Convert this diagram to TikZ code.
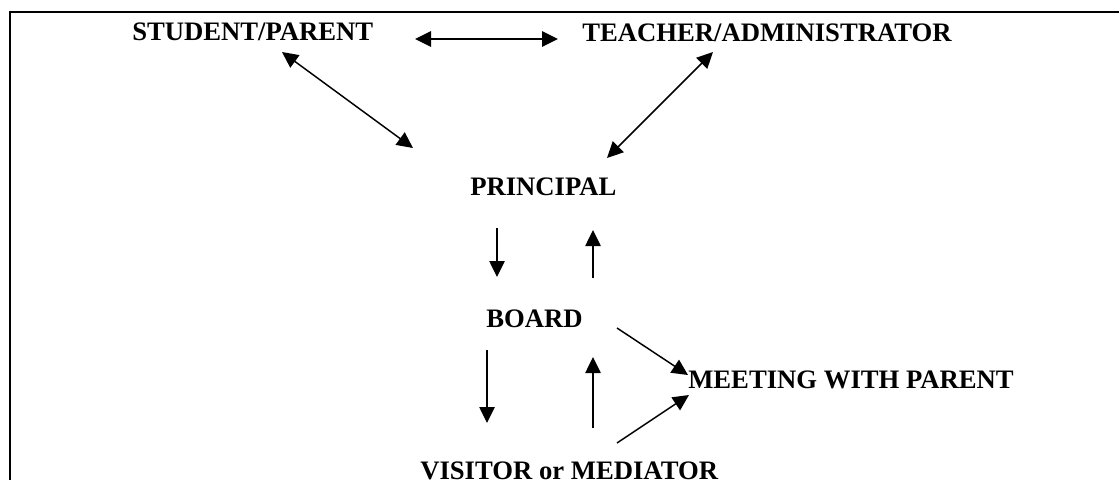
\documentclass[tikz,border=0pt]{standalone}
\usepackage{fontspec}
\setmainfont{Liberation Serif}
\usetikzlibrary{arrows.meta}
\begin{document}
\begin{tikzpicture}[x=0.75pt,y=-0.75pt,
  lbl/.style={anchor=base west,inner sep=0pt,font=\fontsize{20}{24}\selectfont\bfseries},
  tip/.style={},
  conn/.style={line width=1.1pt,-{Triangle[length=12pt,width=11.5pt]}},
  dconn/.style={line width=1.1pt,{Triangle[length=12pt,width=11.5pt]}-{Triangle[length=12pt,width=11.5pt]}},
  frame/.style={line width=2.2pt}]
\useasboundingbox (0,0) rectangle (1119,479);
\clip (0,0) rectangle (1119,479);
\draw[frame] (1122,12) -- (10,12) -- (10,482);
\node[lbl] (sp) at (132,40) {STUDENT/PARENT};
\node[lbl] (ta) at (582,41) {TEACHER/ADMINISTRATOR};
\node[lbl] (pr) at (470,195) {PRINCIPAL};
\node[lbl] (bd) at (486,327) {BOARD};
\node[lbl] (mt) at (688,388) {MEETING WITH PARENT};
\node[lbl] (vm) at (420,479) {VISITOR or MEDIATOR};
% connector end points
\coordinate (h1) at (415,39);
\coordinate (h2) at (558,39);
\coordinate (s1) at (282,52);
\coordinate (s2) at (413,148);
\coordinate (t1) at (713,52);
\coordinate (t2) at (607,158);
\coordinate (pd1) at (497,228);
\coordinate (pd2) at (497,277);
\coordinate (bu1) at (593,278);
\coordinate (bu2) at (593,230);
\coordinate (bm1) at (617,328);
\coordinate (bm2) at (688,375);
\coordinate (bd1) at (487,350);
\coordinate (bd2) at (487,423);
\coordinate (vu1) at (593,428);
\coordinate (vu2) at (593,357);
\coordinate (vm1) at (617,443);
\coordinate (vm2) at (689,395);
\draw[dconn,line width=1.6pt] (h1) -- (h2);
\draw[dconn] (s1) -- (s2);
\draw[dconn] (t1) -- (t2);
\draw[conn] (pd1) -- (pd2);
\draw[conn] (bu1) -- (bu2);
\draw[conn] (bm1) -- (bm2);
\draw[conn] (bd1) -- (bd2);
\draw[conn] (vu1) -- (vu2);
\draw[conn] (vm1) -- (vm2);
\end{tikzpicture}
\end{document}
